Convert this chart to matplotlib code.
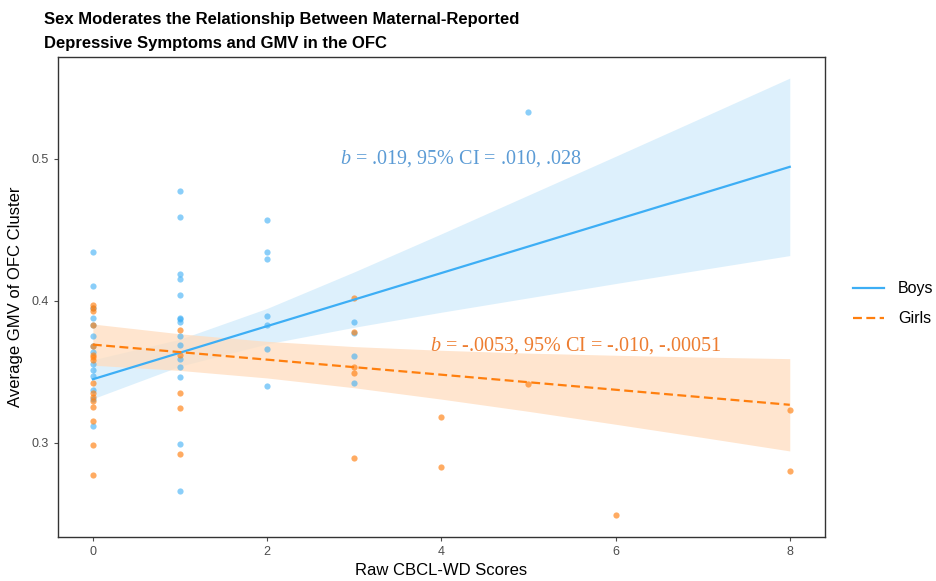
from matplotlib import pyplot as plt

# scatter points
boys_x = [0] * 14 + [1] * 15 + [2] * 7 + [3] * 4 + [5]
boys_y = [0.434, 0.410, 0.395, 0.388, 0.383, 0.375, 0.368, 0.364, 0.355,
          0.351, 0.347, 0.337, 0.331, 0.312,
          0.477, 0.459, 0.419, 0.415, 0.404, 0.388, 0.387, 0.385, 0.375,
          0.369, 0.359, 0.353, 0.346, 0.299, 0.266,
          0.457, 0.434, 0.429, 0.389, 0.383, 0.366, 0.340,
          0.385, 0.377, 0.361, 0.342,
          0.533]

girls_x = [0] * 16 + [1] * 5 + [3] * 5 + [4] * 2 + [5] + [6] + [8] * 2
girls_y = [0.397, 0.395, 0.393, 0.383, 0.368, 0.362, 0.360, 0.358, 0.342,
           0.335, 0.332, 0.329, 0.325, 0.315, 0.298, 0.277,
           0.379, 0.362, 0.335, 0.324, 0.292,
           0.402, 0.378, 0.353, 0.349, 0.289,
           0.318, 0.283,
           0.341,
           0.249,
           0.323, 0.280]

# fitted lines and 95% bands, read at x = 0..8
band_x = [0, 1, 2, 3, 4, 5, 6, 7, 8]
boys_fit = [0.3446, 0.3633, 0.3820, 0.4007, 0.4194, 0.4381, 0.4568, 0.4755, 0.4942]
boys_lo = [0.3309, 0.3538, 0.3695, 0.3812, 0.3918, 0.4019, 0.4120, 0.4219, 0.4317]
boys_hi = [0.3583, 0.3728, 0.3945, 0.4202, 0.4470, 0.4743, 0.5016, 0.5291, 0.5567]
girls_fit = [0.3690, 0.3637, 0.3584, 0.3531, 0.3478, 0.3425, 0.3372, 0.3319, 0.3266]
girls_lo = [0.3545, 0.3508, 0.3455, 0.3386, 0.3306, 0.3220, 0.3129, 0.3036, 0.2941]
girls_hi = [0.3835, 0.3766, 0.3713, 0.3676, 0.3650, 0.3630, 0.3615, 0.3602, 0.3591]

boys_note = '$\\it{b}$ = .019, 95% CI = .010, .028'
girls_note = '$\\it{b}$ = -.0053, 95% CI = -.010, -.00051'


def main():
  plt.rcParams['font.family'] = ['Liberation Sans', 'DejaVu Sans']
  plt.rcParams['mathtext.fontset'] = 'custom'
  plt.rcParams['mathtext.it'] = 'Liberation Serif:italic'
  plt.rcParams['mathtext.rm'] = 'Liberation Serif'

  fig = plt.figure(figsize=(9.36, 5.81), dpi=100)
  ax = fig.add_axes([0.062, 0.076, 0.819, 0.826])

  blue = '#3DAEF5'
  orange = '#FF7F0E'

  ax.fill_between(band_x, boys_lo, boys_hi, color='#D7EEFC', lw=0, alpha=0.85)
  ax.fill_between(band_x, girls_lo, girls_hi, color='#FFDDBF', lw=0, alpha=0.75)

  ax.scatter(boys_x, boys_y, s=20, color=blue, alpha=0.6, lw=0, zorder=3)
  ax.scatter(girls_x, girls_y, s=20, color=orange, alpha=0.65, lw=0, zorder=3)

  ax.plot(band_x, boys_fit, color=blue, lw=1.6, label='Boys', zorder=4)
  ax.plot(band_x, girls_fit, color=orange, lw=1.6, ls=(0, (4, 2)),
          label='Girls', zorder=4)

  ax.text(4.22, 0.5, boys_note, color='#5B9BD5', fontsize=14.5,
          family='Liberation Serif', ha='center', va='center')
  ax.text(5.54, 0.368, girls_note, color='#ED7D31', fontsize=14.5,
          family='Liberation Serif', ha='center', va='center')

  ax.set_xlim(-0.4, 8.4)
  ax.set_ylim(0.2336, 0.5716)
  ax.set_xticks([0, 2, 4, 6, 8])
  ax.set_yticks([0.3, 0.4, 0.5])
  ax.set_yticklabels(['0.3', '0.4', '0.5'])
  ax.tick_params(colors='#4D4D4D', labelsize=9, length=3)
  for sp in ax.spines.values():
    sp.set_color('#333333')
    sp.set_linewidth(1.0)

  ax.set_xlabel('Raw CBCL-WD Scores', fontsize=12, labelpad=4)
  ax.set_ylabel('Average GMV of OFC Cluster', fontsize=12, labelpad=6)

  fig.text(0.047, 0.980,
           'Sex Moderates the Relationship Between Maternal-Reported\n'
           'Depressive Symptoms and GMV in the OFC',
           fontsize=12, fontweight='bold', va='top', ha='left',
           linespacing=1.75)

  fig.legend(loc='center left', bbox_to_anchor=(0.911, 0.477), frameon=False,
             fontsize=11.5, handlelength=1.95, handletextpad=0.9,
             borderpad=0.0, borderaxespad=0.0, labelspacing=0.95)

  fig.savefig('out.png', dpi=100)


if __name__ == '__main__':
  main()
